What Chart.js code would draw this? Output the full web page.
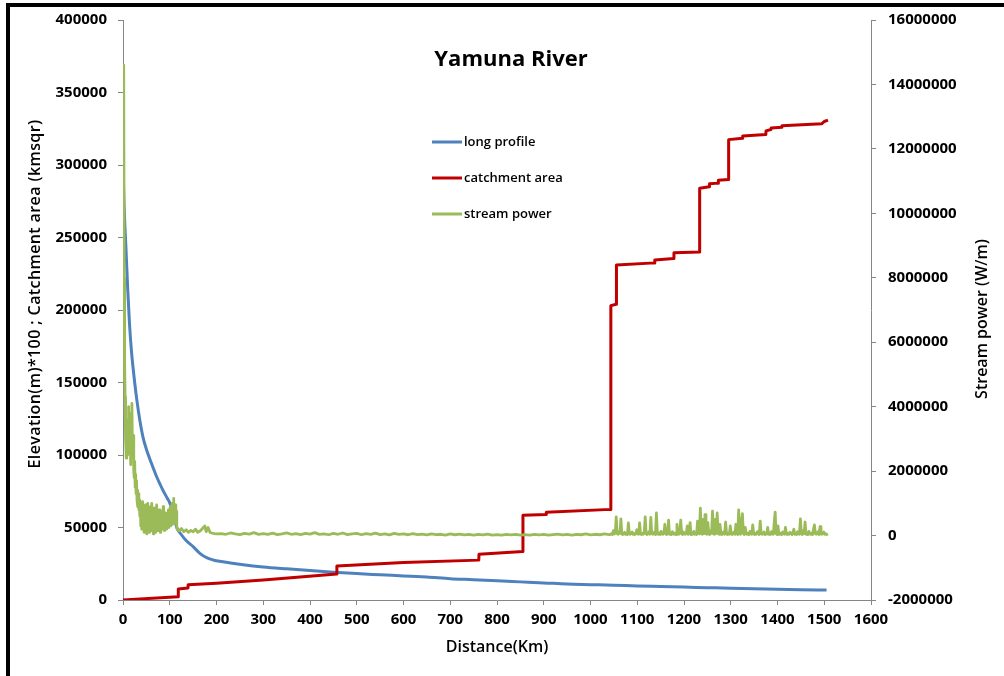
<!DOCTYPE html>
<html>
<head>
<meta charset="utf-8">
<title>Yamuna River</title>
<script src="https://cdn.jsdelivr.net/npm/chart.js@4.4.1/dist/chart.umd.min.js"></script>
<style>
  html, body { margin: 0; padding: 0; background: #fff; overflow: hidden; }
  #wrap { position: relative; width: 1004px; height: 676px; }
  #frame { position: absolute; left: 6px; top: 3px; width: 1200px; height: 900px;
           border-top: 4px solid #000; border-left: 4px solid #000; }
  #c { position: absolute; left: 0; top: 0; }
</style>
</head>
<body>
<div id="wrap">
  <div id="frame"></div>
  <canvas id="c" width="1004" height="676"></canvas>
</div>
<script>
// Axis ranges
const distanceRange = [0, 1600, 100];
const leftRange = [0, 400000, 50000];
const rightRange = [-2000000, 16000000, 2000000];

// Long profile: [distance km, elevation m * 100]
const profile = [
  [0, 300000], [2, 275000], [4, 258000], [6, 245000], [10, 215000], [14, 190000],
  [18, 172000], [25, 150000], [30, 137000], [36, 124000], [43, 112000], [50, 104000],
  [60, 95000], [72, 85000], [85, 76000], [95, 70000], [100, 67000], [108, 59000],
  [115, 50000], [125, 45000], [135, 41000], [150, 36800], [165, 32000], [180, 29000],
  [193, 27600], [210, 26500], [230, 25500], [257, 24300], [300, 22800], [350, 21500],
  [400, 20300], [450, 19200], [500, 18200], [550, 17400], [600, 16600], [650, 15800],
  [700, 14700], [750, 14000], [800, 13200], [850, 12500], [900, 11800], [950, 11000],
  [1000, 10600], [1050, 10200], [1100, 9700], [1150, 9300], [1200, 8900], [1250, 8500],
  [1300, 8100], [1350, 7800], [1400, 7400], [1450, 7100], [1505, 6900]
];

// Catchment area: [distance km, area km²]
const catchment = [
  [0, 0], [118, 2300], [118.3, 7600], [139, 8300], [139.3, 10500], [200, 11500],
  [300, 13800], [379, 15800], [457, 17900], [457.5, 23500], [600, 25800], [761, 27500],
  [761.5, 31500], [855, 33500], [855.5, 58500], [905, 59000], [905.5, 60500],
  [1043, 62500], [1043.5, 203000], [1055, 204000], [1055.5, 231000], [1137, 232500],
  [1137.5, 234500], [1178, 235500], [1178.5, 239500], [1233, 240000], [1233.5, 284000],
  [1254, 285000], [1254.5, 287000], [1273, 287500], [1273.5, 289500], [1295, 290000],
  [1295.5, 317500], [1325, 318500], [1325.5, 320000], [1375, 321000], [1375.5, 323500],
  [1386, 324500], [1386.5, 325500], [1409, 326000], [1409.5, 327000], [1495, 328500],
  [1500, 330000], [1508, 331000]
];

// Stream power: [distance km, W/m]
const streamPower = [
  [0, 9000000], [1, 12000000], [2, 14600000], [2.5, 8000000], [3, 5800000], [3.5, 4800000],
  [4, 5400000], [4.5, 4300000], [5, 3700000], [6, 3000000], [7, 2400000], [8, 3200000],
  [9, 2500000], [10, 3600000], [11, 2900000], [12, 4000000], [13, 3100000], [14, 2600000],
  [15, 3400000], [16, 2200000], [17, 3000000], [18, 3800000], [19, 4100000], [20, 2900000],
  [21, 2500000], [22, 3100000], [23, 2000000], [24, 1800000], [25, 2300000], [26, 1500000],
  [27, 1900000], [28, 1300000], [29, 1700000], [30, 1100000], [31, 1400000], [32, 900000],
  [33, 1300000], [34, 800000], [35, 1100000], [36, 600000], [37, 1000000],
  [38, 300000], [39, 900000], [40, 200000], [41, 700000], [42, 1050000], [43, 400000],
  [44, 800000], [45, 100000], [46, 600000], [47, 300000], [48, 950000], [49, 200000],
  [50, 700000], [51, 50000], [52, 500000], [53, 1000000], [54, 300000], [55, 800000],
  [56, 100000], [57, 600000], [58, 250000], [59, 900000], [60, 150000], [61, 550000],
  [62, 1000000], [63, 200000], [64, 700000], [65, 50000], [66, 450000], [67, 850000],
  [68, 300000], [69, 600000], [70, 100000], [71, 500000], [72, 950000], [73, 350000],
  [74, 700000], [75, 150000], [76, 550000], [77, 250000], [78, 800000], [79, 400000],
  [80, 100000], [81, 600000], [82, 300000], [83, 750000], [84, 200000], [85, 500000],
  [86, 900000], [87, 350000], [88, 600000], [89, 150000], [90, 450000], [91, 700000],
  [92, 300000], [93, 550000], [94, 200000], [95, 650000], [96, 350000], [97, 800000],
  [98, 250000], [99, 550000], [100, 400000], [101, 900000], [102, 300000], [103, 600000],
  [104, 450000], [105, 1000000], [106, 350000], [107, 700000], [108, 1150000], [109, 500000],
  [110, 800000], [111, 400000], [112, 950000], [113, 550000], [114, 750000], [115, 300000],
  [116, 180000], [120, 150000], [125, 220000], [130, 120000], [135, 180000], [140, 100000],
  [145, 160000], [150, 120000], [155, 200000], [160, 100000], [165, 140000], [170, 220000],
  [175, 300000], [178, 120000], [182, 250000], [186, 100000], [190, 80000], [195, 60000],
  [200, 50000], [210, 60000], [220, 40000], [230, 80000], [240, 50000], [250, 30000],
  [260, 70000], [270, 45000], [280, 90000], [290, 35000], [300, 60000], [310, 40000],
  [320, 75000], [330, 30000], [340, 55000], [350, 85000], [360, 40000], [370, 60000],
  [380, 30000], [390, 70000], [400, 45000], [410, 90000], [420, 35000], [430, 55000],
  [440, 25000], [450, 65000], [460, 40000], [470, 80000], [480, 30000], [490, 50000],
  [500, 70000], [510, 25000], [520, 60000], [530, 40000], [540, 75000], [550, 30000],
  [560, 55000], [570, 20000], [580, 65000], [590, 35000], [600, 50000], [610, 25000],
  [620, 60000], [630, 30000], [640, 45000], [650, 20000], [660, 55000], [670, 30000],
  [680, 40000], [690, 15000], [700, 50000], [710, 25000], [720, 45000], [730, 20000],
  [740, 40000], [750, 15000], [760, 35000], [770, 20000], [780, 45000], [790, 15000],
  [800, 30000], [810, 10000], [820, 35000], [830, 20000], [840, 40000], [850, 15000],
  [860, 30000], [870, 10000], [880, 35000], [890, 20000], [900, 40000], [910, 15000],
  [920, 30000], [930, 45000], [940, 20000], [950, 40000], [960, 15000], [970, 35000],
  [980, 25000], [990, 50000], [1000, 20000], [1010, 40000], [1020, 25000], [1030, 50000],
  [1040, 30000],
  [1043, 40000], [1045, 60000], [1047, 30000], [1049, 150000], [1051, 50000], [1053, 80000],
  [1055, 580000], [1057, 60000], [1059, 40000], [1061, 120000], [1063, 70000], [1065, 520000],
  [1067, 50000], [1069, 30000], [1071, 60000], [1073, 100000], [1075, 40000], [1077, 70000],
  [1079, 30000], [1081, 390000], [1083, 60000], [1085, 40000], [1087, 80000], [1089, 110000],
  [1091, 40000], [1093, 60000], [1095, 30000], [1097, 70000], [1099, 180000], [1101, 50000],
  [1103, 40000], [1105, 390000], [1107, 60000], [1109, 30000], [1111, 70000], [1113, 40000],
  [1115, 90000], [1117, 580000], [1119, 50000], [1121, 30000], [1123, 60000], [1125, 120000],
  [1127, 40000], [1129, 560000], [1131, 70000], [1133, 40000], [1135, 60000], [1137, 110000],
  [1139, 30000], [1141, 700000], [1143, 60000], [1145, 40000], [1147, 80000], [1149, 30000],
  [1151, 130000], [1153, 60000], [1155, 40000], [1157, 70000], [1159, 350000], [1161, 50000],
  [1163, 30000], [1165, 60000], [1167, 480000], [1169, 40000], [1171, 70000], [1173, 30000],
  [1175, 120000], [1177, 60000], [1179, 40000], [1181, 80000], [1183, 30000], [1185, 350000],
  [1187, 50000], [1189, 40000], [1191, 70000], [1193, 480000], [1195, 60000], [1197, 30000],
  [1199, 110000], [1201, 50000], [1203, 40000], [1205, 70000], [1207, 300000], [1209, 40000],
  [1211, 60000], [1213, 400000], [1215, 30000], [1217, 70000], [1219, 50000], [1221, 130000],
  [1223, 40000], [1225, 60000], [1227, 30000], [1229, 450000], [1231, 70000], [1233, 50000],
  [1235, 850000], [1237, 80000], [1239, 40000], [1241, 500000], [1243, 60000], [1245, 650000],
  [1247, 70000], [1249, 40000], [1251, 400000], [1253, 60000], [1255, 30000], [1257, 150000],
  [1259, 70000], [1261, 760000], [1263, 50000], [1265, 40000], [1267, 500000], [1269, 60000],
  [1271, 700000], [1273, 80000], [1275, 40000], [1277, 350000], [1279, 60000], [1281, 30000],
  [1283, 70000], [1285, 120000], [1287, 40000], [1289, 420000], [1291, 60000], [1293, 30000],
  [1295, 70000], [1297, 40000], [1299, 300000], [1301, 60000], [1303, 30000], [1305, 70000],
  [1307, 110000], [1309, 40000], [1311, 350000], [1313, 60000], [1315, 30000], [1317, 800000],
  [1319, 70000], [1321, 40000], [1323, 450000], [1325, 680000], [1327, 60000], [1329, 30000],
  [1331, 250000], [1333, 60000], [1335, 40000], [1337, 70000], [1339, 30000], [1341, 130000],
  [1343, 60000], [1345, 40000], [1347, 330000], [1349, 60000], [1351, 30000], [1353, 70000],
  [1355, 40000], [1357, 120000], [1359, 60000], [1361, 30000], [1363, 450000], [1365, 70000],
  [1367, 40000], [1369, 60000], [1371, 110000], [1373, 30000], [1375, 70000], [1377, 50000],
  [1379, 250000], [1381, 40000], [1383, 60000], [1385, 30000], [1387, 120000], [1389, 60000],
  [1391, 40000], [1393, 400000], [1395, 730000], [1397, 60000], [1399, 30000], [1401, 300000],
  [1403, 60000], [1405, 40000], [1407, 70000], [1409, 30000], [1411, 110000], [1413, 50000],
  [1415, 40000], [1417, 250000], [1419, 60000], [1421, 30000], [1423, 70000], [1425, 40000],
  [1427, 100000], [1429, 60000], [1431, 30000], [1433, 70000], [1435, 200000], [1437, 40000],
  [1439, 60000], [1441, 30000], [1443, 120000], [1445, 60000], [1447, 40000], [1449, 520000],
  [1451, 60000], [1453, 30000], [1455, 150000], [1457, 60000], [1459, 420000], [1461, 40000],
  [1463, 70000], [1465, 30000], [1467, 130000], [1469, 60000], [1471, 40000], [1473, 70000],
  [1475, 30000], [1477, 200000], [1479, 330000], [1481, 60000], [1483, 40000], [1485, 70000],
  [1487, 120000], [1489, 30000], [1491, 280000], [1493, 60000], [1495, 40000], [1497, 70000],
  [1499, 110000], [1501, 40000], [1503, 60000], [1505, 30000], [1508, 50000]
];

const seriesNames = ['long profile', 'catchment area', 'stream power'];
const seriesColors = ['#4F81BD', '#C00000', '#9BBB59'];
const chartTitle = 'Yamuna River';
const axisTitles = {
  x: 'Distance(Km)',
  left: 'Elevation(m)*100 ; Catchment area (kmsqr)',
  right: 'Stream power (W/m)'
};

const toPoints = arr => arr.map(p => ({ x: p[0], y: p[1] }));

Chart.defaults.font.family = "'Open Sans', sans-serif";
Chart.defaults.color = '#000';

const AXIS_GREY = '#868686';
const tickFont = { family: "'Open Sans', sans-serif", size: 15, weight: 'bold' };
const titleFont = { family: "'Open Sans', sans-serif", size: 16, weight: '600' };

// Chart title, legend and the two vertical axis titles, drawn on top of the chart
const overlayPlugin = {
  id: 'overlay',
  afterDraw(chart) {
    const ctx = chart.ctx;
    ctx.save();
    ctx.fillStyle = '#000';
    ctx.font = "bold 22px 'Open Sans', sans-serif";
    ctx.textAlign = 'center';
    ctx.textBaseline = 'middle';
    ctx.fillText(chartTitle, 511, 60);

    // Vertical titles, both reading bottom to top
    ctx.font = "600 16px 'Open Sans', sans-serif";
    ctx.save();
    ctx.translate(35, 294);
    ctx.rotate(-Math.PI / 2);
    ctx.letterSpacing = '0.4px';
    ctx.fillText(axisTitles.left, 0, 0);
    ctx.restore();
    ctx.save();
    ctx.translate(982, 319);
    ctx.rotate(-Math.PI / 2);
    ctx.fillText(axisTitles.right, 0, 0);
    ctx.restore();

    ctx.font = "600 13px 'Open Sans', sans-serif";
    ctx.textAlign = 'left';
    chart.data.datasets.forEach((ds, i) => {
      const y = 142 + i * 36;
      ctx.strokeStyle = ds.borderColor;
      ctx.lineWidth = 3;
      ctx.beginPath();
      ctx.moveTo(432, y);
      ctx.lineTo(462, y);
      ctx.stroke();
      ctx.fillStyle = '#000';
      ctx.fillText(ds.label, 464, y);
    });
    ctx.restore();
  }
};

function fixWidth(w) {
  return scale => { scale.width = w; scale.paddingTop = 0; scale.paddingBottom = 0; };
}

const plainNumber = v => String(v);

new Chart(document.getElementById('c'), {
  type: 'line',
  data: {
    datasets: [
      { label: seriesNames[0], data: toPoints(profile), borderColor: seriesColors[0],
        borderWidth: 3, pointRadius: 0, yAxisID: 'y', order: 2, cubicInterpolationMode: 'monotone',
        borderJoinStyle: 'round' },
      { label: seriesNames[1], data: toPoints(catchment), borderColor: seriesColors[1],
        borderWidth: 3, pointRadius: 0, yAxisID: 'y', order: 1, borderJoinStyle: 'round' },
      { label: seriesNames[2], data: toPoints(streamPower), borderColor: seriesColors[2],
        borderWidth: 2.8, pointRadius: 0, yAxisID: 'y1', order: 0, borderJoinStyle: 'round' }
    ]
  },
  options: {
    responsive: false,
    animation: false,
    events: [],
    layout: { padding: { top: 20, left: 0, right: 0, bottom: 0 } },
    scales: {
      x: {
        type: 'linear',
        min: distanceRange[0], max: distanceRange[1],
        grid: { drawOnChartArea: false, drawTicks: true, tickLength: 5, tickColor: AXIS_GREY },
        border: { color: AXIS_GREY, width: 1 },
        ticks: { stepSize: distanceRange[2], font: tickFont, color: '#000', padding: 6,
                 maxRotation: 0, autoSkip: false, callback: plainNumber },
        title: { display: true, text: axisTitles.x, font: titleFont, color: '#000',
                 padding: { top: 0, bottom: 19 } },
        afterFit: scale => { scale.height = 76; scale.paddingLeft = 0; scale.paddingRight = 0; }
      },
      y: {
        position: 'left',
        min: leftRange[0], max: leftRange[1],
        grid: { drawOnChartArea: false, drawTicks: true, tickLength: 5, tickColor: AXIS_GREY },
        border: { color: AXIS_GREY, width: 1 },
        ticks: { stepSize: leftRange[2], font: tickFont, color: '#000', padding: 11,
                 callback: plainNumber },
        afterFit: fixWidth(123)
      },
      y1: {
        position: 'right',
        min: rightRange[0], max: rightRange[1],
        grid: { drawOnChartArea: false, drawTicks: true, tickLength: 5, tickColor: AXIS_GREY },
        border: { color: AXIS_GREY, width: 1 },
        ticks: { stepSize: rightRange[2], font: tickFont, color: '#000', padding: 12,
                 callback: plainNumber },
        afterFit: fixWidth(133)
      }
    },
    plugins: {
      legend: { display: false },
      title: { display: false },
      tooltip: { enabled: false }
    }
  },
  plugins: [overlayPlugin]
});
</script>
</body>
</html>
